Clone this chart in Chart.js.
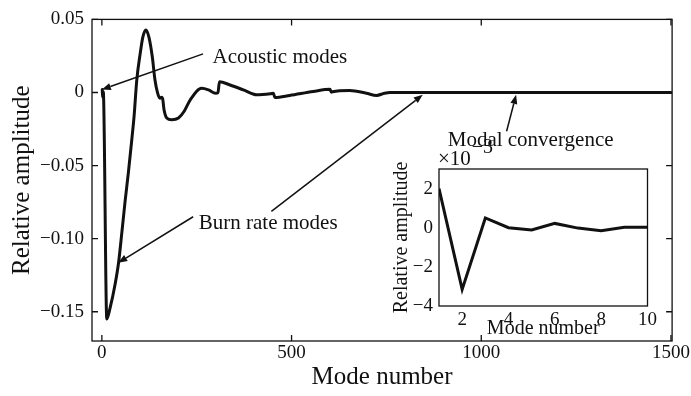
<!DOCTYPE html>
<html>
<head>
<meta charset="utf-8">
<script src="https://cdn.jsdelivr.net/npm/chart.js@4.4.1/dist/chart.umd.min.js"></script>
<style>
  html, body { margin: 0; padding: 0; background: #fff; }
  #wrap { position: relative; width: 691px; height: 396px; overflow: hidden; }
  #main { position: absolute; left: 0; top: 0; }
  #inset { position: absolute; left: 390px; top: 135px; }
</style>
</head>
<body>
<div id="wrap">
  <canvas id="main" width="691" height="396"></canvas>
  <canvas id="inset" width="270" height="215"></canvas>
</div>
<script>
// Modal amplitudes of the full expansion
const modeNumbers = [1, 2, 3, 4, 13, 22, 35, 44, 53, 61, 70, 79, 85, 92, 101, 108, 116, 124, 133, 140, 147,
  153, 157, 160, 164, 171, 184, 202, 217, 233, 263, 281, 300, 306, 310, 338, 373, 408, 445, 452, 456,
  495, 557, 601, 605, 608, 653, 697, 724, 745, 760, 1000, 1500];
const relativeAmplitude = [0.002, -0.0032, 0.0005, 0.0, -0.155, -0.147, -0.131, -0.1165, -0.095, -0.075,
  -0.0545, -0.032, -0.016, 0.0085, 0.0266, 0.0379, 0.0428, 0.0379, 0.0243, 0.0085, -0.0005,
  -0.004, -0.0032, -0.004, -0.012, -0.0174, -0.0186, -0.0174, -0.0128, -0.005, 0.0029, 0.0018, -0.0005,
  -0.0002, 0.0074, 0.0051, 0.0018, -0.0016, -0.0008, -0.0005, -0.0034, -0.002, 0.0007, 0.0022, 0.0002,
  0.0005, 0.0013, -0.0005, -0.002, -0.0005, 0, 0, 0];
const xTicks = [0, 500, 1000, 1500];
const yTicks = [-0.15, -0.10, -0.05, 0, 0.05];

// First ten modes, enlarged
const insetModes = [1, 2, 3, 4, 5, 6, 7, 8, 9, 10];
const insetAmplitude = [2.0e-3, -3.15e-3, 0.5e-3, 0.0, -0.12e-3, 0.22e-3, -0.02e-3, -0.15e-3, 0.02e-3, 0.03e-3];
const insetXTicks = [2, 4, 6, 8, 10];
const insetYTicks = [-4e-3, -2e-3, 0, 2e-3];

// Callouts: text anchors (left, baseline) and arrows (from -> to), in data units
const noteTexts = ['Acoustic modes', 'Burn rate modes', 'Modal convergence'];
const notePositions = [[291.6, 0.0203], [255.5, -0.0931], [911.6, -0.0366]];
const arrowPaths = [
  [266.8, 0.0264, 0, 0.002],
  [240.5, -0.085, 43.2, -0.1165],
  [446.8, -0.0813, 845.8, -0.0016],
  [1066.8, -0.0265, 1091.8, -0.0016]
];

const SERIF = "'Liberation Serif', 'Times New Roman', serif";
const INK = '#111';
Chart.defaults.font.family = SERIF;
Chart.defaults.color = INK;

const minus = s => s.replace('-', '\u2212');

function drawArrow(ctx, x1, y1, x2, y2) {
  const ang = Math.atan2(y2 - y1, x2 - x1);
  const len = 9, half = 3.5;
  const bx = x2 - len * Math.cos(ang), by = y2 - len * Math.sin(ang);
  ctx.beginPath();
  ctx.moveTo(x1, y1);
  ctx.lineTo(bx, by);
  ctx.stroke();
  ctx.beginPath();
  ctx.moveTo(x2, y2);
  ctx.lineTo(bx + half * Math.sin(ang), by - half * Math.cos(ang));
  ctx.lineTo(bx - half * Math.sin(ang), by + half * Math.cos(ang));
  ctx.closePath();
  ctx.fill();
}

// Box frame with inward tick marks on all four sides
function frameBox(tickLen, withTicks) {
  return {
    id: 'frameBox',
    afterDraw(chart) {
      const {ctx, chartArea: a, scales: {x, y}} = chart;
      ctx.save();
      ctx.strokeStyle = INK;
      ctx.lineWidth = 1.3;
      ctx.strokeRect(a.left, a.top, a.right - a.left, a.bottom - a.top);
      if (withTicks) {
        ctx.beginPath();
        x.ticks.forEach(t => {
          const px = x.getPixelForValue(t.value);
          ctx.moveTo(px, a.bottom); ctx.lineTo(px, a.bottom - tickLen);
          ctx.moveTo(px, a.top); ctx.lineTo(px, a.top + tickLen);
        });
        y.ticks.forEach(t => {
          const py = y.getPixelForValue(t.value);
          ctx.moveTo(a.left, py); ctx.lineTo(a.left + tickLen, py);
          ctx.moveTo(a.right, py); ctx.lineTo(a.right - tickLen, py);
        });
        ctx.stroke();
      }
      ctx.restore();
    }
  };
}

const callouts = {
  id: 'callouts',
  afterDatasetsDraw(chart) {
    const {ctx, scales: {x, y}} = chart;
    ctx.save();
    ctx.strokeStyle = INK;
    ctx.fillStyle = INK;
    ctx.lineWidth = 1.5;
    arrowPaths.forEach(([m1, a1, m2, a2]) => {
      drawArrow(ctx, x.getPixelForValue(m1), y.getPixelForValue(a1),
                     x.getPixelForValue(m2), y.getPixelForValue(a2));
    });
    ctx.font = '21px ' + SERIF;
    ctx.textAlign = 'left';
    ctx.textBaseline = 'alphabetic';
    noteTexts.forEach((t, i) => {
      const [m, a] = notePositions[i];
      ctx.fillText(t, x.getPixelForValue(m), y.getPixelForValue(a));
    });
    ctx.restore();
  }
};

new Chart(document.getElementById('main'), {
  type: 'line',
  data: {
    datasets: [{
      data: modeNumbers.map((m, i) => ({x: m, y: relativeAmplitude[i]})),
      borderColor: INK,
      borderWidth: 3,
      pointRadius: 0,
      cubicInterpolationMode: 'monotone',
      borderJoinStyle: 'round',
      borderCapStyle: 'round',
      fill: false
    }]
  },
  options: {
    responsive: false,
    animation: false,
    layout: {padding: {top: 15, right: 18, left: 0, bottom: 0}},
    plugins: {legend: {display: false}, tooltip: {enabled: false}},
    scales: {
      x: {
        type: 'linear', min: -26, max: 1503,
        afterBuildTicks: s => { s.ticks = xTicks.map(v => ({value: v})); },
        afterFit: s => { s.height = 55; },
        grid: {display: false, drawTicks: false, tickLength: 0},
        border: {display: false},
        ticks: {font: {size: 19}, color: INK, padding: 1, maxRotation: 0, autoSkip: false,
                callback: v => String(v)},
        title: {display: true, text: 'Mode number', font: {size: 25}, color: INK,
                padding: {top: 0, bottom: 4}}
      },
      y: {
        type: 'linear', min: -0.17, max: 0.05,
        afterBuildTicks: s => { s.ticks = yTicks.map(v => ({value: v})); },
        afterFit: s => { s.width = 92; },
        grid: {display: false, drawTicks: false, tickLength: 0},
        border: {display: false},
        ticks: {font: {size: 19}, color: INK, padding: 8, autoSkip: false,
                callback: v => Math.abs(v) < 1e-9 ? '0' : minus(v.toFixed(2))},
        title: {display: true, text: 'Relative amplitude', font: {size: 25}, color: INK,
                padding: {top: 7, bottom: 0}}
      }
    }
  },
  plugins: [callouts, frameBox(6, true)]
});

const exponentLabel = {
  id: 'exponentLabel',
  afterDraw(chart) {
    const {ctx, chartArea: a} = chart;
    ctx.save();
    ctx.fillStyle = INK;
    ctx.textAlign = 'left';
    ctx.textBaseline = 'alphabetic';
    ctx.font = '21px ' + SERIF;
    ctx.fillText('\u00d710', a.left - 1, a.top - 4);
    const w = ctx.measureText('\u00d710').width;
    ctx.font = '20px ' + SERIF;
    ctx.fillText('\u22123', a.left - 1 + w + 1, a.top - 16);
    ctx.restore();
  }
};

new Chart(document.getElementById('inset'), {
  type: 'line',
  data: {
    datasets: [{
      data: insetModes.map((m, i) => ({x: m, y: insetAmplitude[i]})),
      borderColor: INK,
      borderWidth: 3,
      pointRadius: 0,
      tension: 0,
      borderJoinStyle: 'miter',
      fill: false
    }]
  },
  options: {
    responsive: false,
    animation: false,
    layout: {padding: {top: 34, right: 9, left: 0, bottom: 0}},
    plugins: {legend: {display: false}, tooltip: {enabled: false}},
    scales: {
      x: {
        type: 'linear', min: 1, max: 10,
        afterBuildTicks: s => { s.ticks = insetXTicks.map(v => ({value: v})); },
        afterFit: s => { s.height = 44; },
        grid: {display: false, drawTicks: false, tickLength: 0},
        border: {display: false},
        ticks: {font: {size: 19}, color: INK, padding: 3, maxRotation: 0, autoSkip: false,
                callback: v => String(v)},
        title: {display: true, text: 'Mode number', font: {size: 20}, color: INK,
                padding: {top: 0, bottom: 9}}
      },
      y: {
        type: 'linear', min: -4e-3, max: 3e-3,
        afterBuildTicks: s => { s.ticks = insetYTicks.map(v => ({value: v})); },
        afterFit: s => { s.width = 49; },
        grid: {display: false, drawTicks: false, tickLength: 0},
        border: {display: false},
        ticks: {font: {size: 19}, color: INK, padding: 6, autoSkip: false,
                callback: v => minus(String(Math.round(v * 1000)))},
        title: {display: true, text: 'Relative amplitude', font: {size: 20}, color: INK,
                padding: {top: 0, bottom: 0}}
      }
    }
  },
  plugins: [exponentLabel, frameBox(4, false)]
});
</script>
</body>
</html>
